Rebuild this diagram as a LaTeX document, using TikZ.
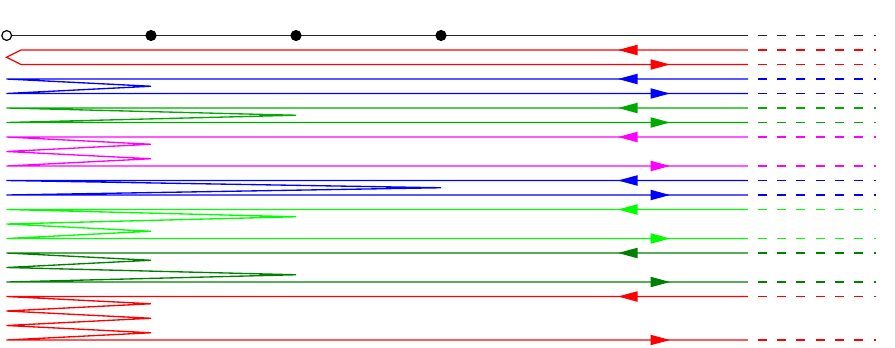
\documentclass[tikz,border=0pt]{standalone}
\definecolor{cred}{RGB}{255,0,0}
\definecolor{cblue}{RGB}{0,0,255}
\definecolor{cgreen}{RGB}{0,170,0}
\definecolor{cmag}{RGB}{255,0,255}
\definecolor{clgreen}{RGB}{0,255,0}
\definecolor{cdgreen}{RGB}{0,128,0}
\newcommand\myLarr[2]{\fill[#1,shift={(0,#2)}] (618,0) -- (637.5,-5.3) -- (637.5,5.3) -- cycle;}
\newcommand\myRarr[2]{\fill[#1,shift={(0,#2)}] (670,0) -- (650.5,-5.3) -- (650.5,5.3) -- cycle;}
\newcommand\myTail[2]{\draw[dsh,#1] (757.7,#2) -- (876,#2);}
\begin{document}
\begin{tikzpicture}[x=0.75pt,y=-0.75pt,line join=miter,
  ln/.style={line width=1pt},
  dsh/.style={line width=1pt,dash pattern=on 6.8pt off 7.7pt}]
\useasboundingbox (0,0) rectangle (895,347);
% base line
\draw[line width=1.2pt,black!85] (6.5,35.5) -- (748,35.5);
\myTail{black!85}{35.5}
\fill (151,35.5) circle (5.6);
\fill (296,35.5) circle (5.6);
\fill (441,35.5) circle (5.6);
\filldraw[fill=white,draw=black,line width=0.9pt] (6.7,35.5) circle (4.9);
% red
\draw[ln,cred] (748,50) -- (21,50) -- (6.5,57.25) -- (21,64.5) -- (748,64.5);
\myTail{cred}{50}\myTail{cred}{64.5}
\myLarr{cred}{50}\myRarr{cred}{64.5}
% blue
\draw[ln,cblue] (748,79) -- (6.5,79) -- (151,86.25) -- (6.5,93.5) -- (748,93.5);
\myTail{cblue}{79}\myTail{cblue}{93.5}
\myLarr{cblue}{79}\myRarr{cblue}{93.5}
% green
\draw[ln,cgreen] (748,108) -- (6.5,108) -- (296,115.25) -- (6.5,122.5) -- (748,122.5);
\myTail{cgreen}{108}\myTail{cgreen}{122.5}
\myLarr{cgreen}{108}\myRarr{cgreen}{122.5}
% magenta
\draw[ln,cmag] (748,137) -- (6.5,137) -- (151,144.25) -- (6.5,151.5) -- (151,158.75) -- (6.5,166) -- (748,166);
\myTail{cmag}{137}\myTail{cmag}{166}
\myLarr{cmag}{137}\myRarr{cmag}{166}
% blue 2
\draw[ln,cblue] (748,180.5) -- (6.5,180.5) -- (441,187.75) -- (6.5,195) -- (748,195);
\myTail{cblue}{180.5}\myTail{cblue}{195}
\myLarr{cblue}{180.5}\myRarr{cblue}{195}
% light green
\draw[ln,clgreen] (748,209.5) -- (6.5,209.5) -- (296,216.75) -- (6.5,224) -- (151,231.25) -- (6.5,238.5) -- (748,238.5);
\myTail{clgreen}{209.5}\myTail{clgreen}{238.5}
\myLarr{clgreen}{209.5}\myRarr{clgreen}{238.5}
% dark green
\draw[ln,cdgreen] (748,253) -- (6.5,253) -- (151,260.25) -- (6.5,267.5) -- (296,274.75) -- (6.5,282) -- (748,282);
\myTail{cdgreen}{253}\myTail{cdgreen}{282}
\myLarr{cdgreen}{253}\myRarr{cdgreen}{282}
% red 2
\draw[ln,cred] (748,296.5) -- (6.5,296.5) -- (151,303.75) -- (6.5,311) -- (151,318.25) -- (6.5,325.5) -- (151,332.75) -- (6.5,340) -- (748,340);
\myTail{cred}{296.5}\myTail{cred}{340}
\myLarr{cred}{296.5}\myRarr{cred}{340}
\end{tikzpicture}
\end{document}
